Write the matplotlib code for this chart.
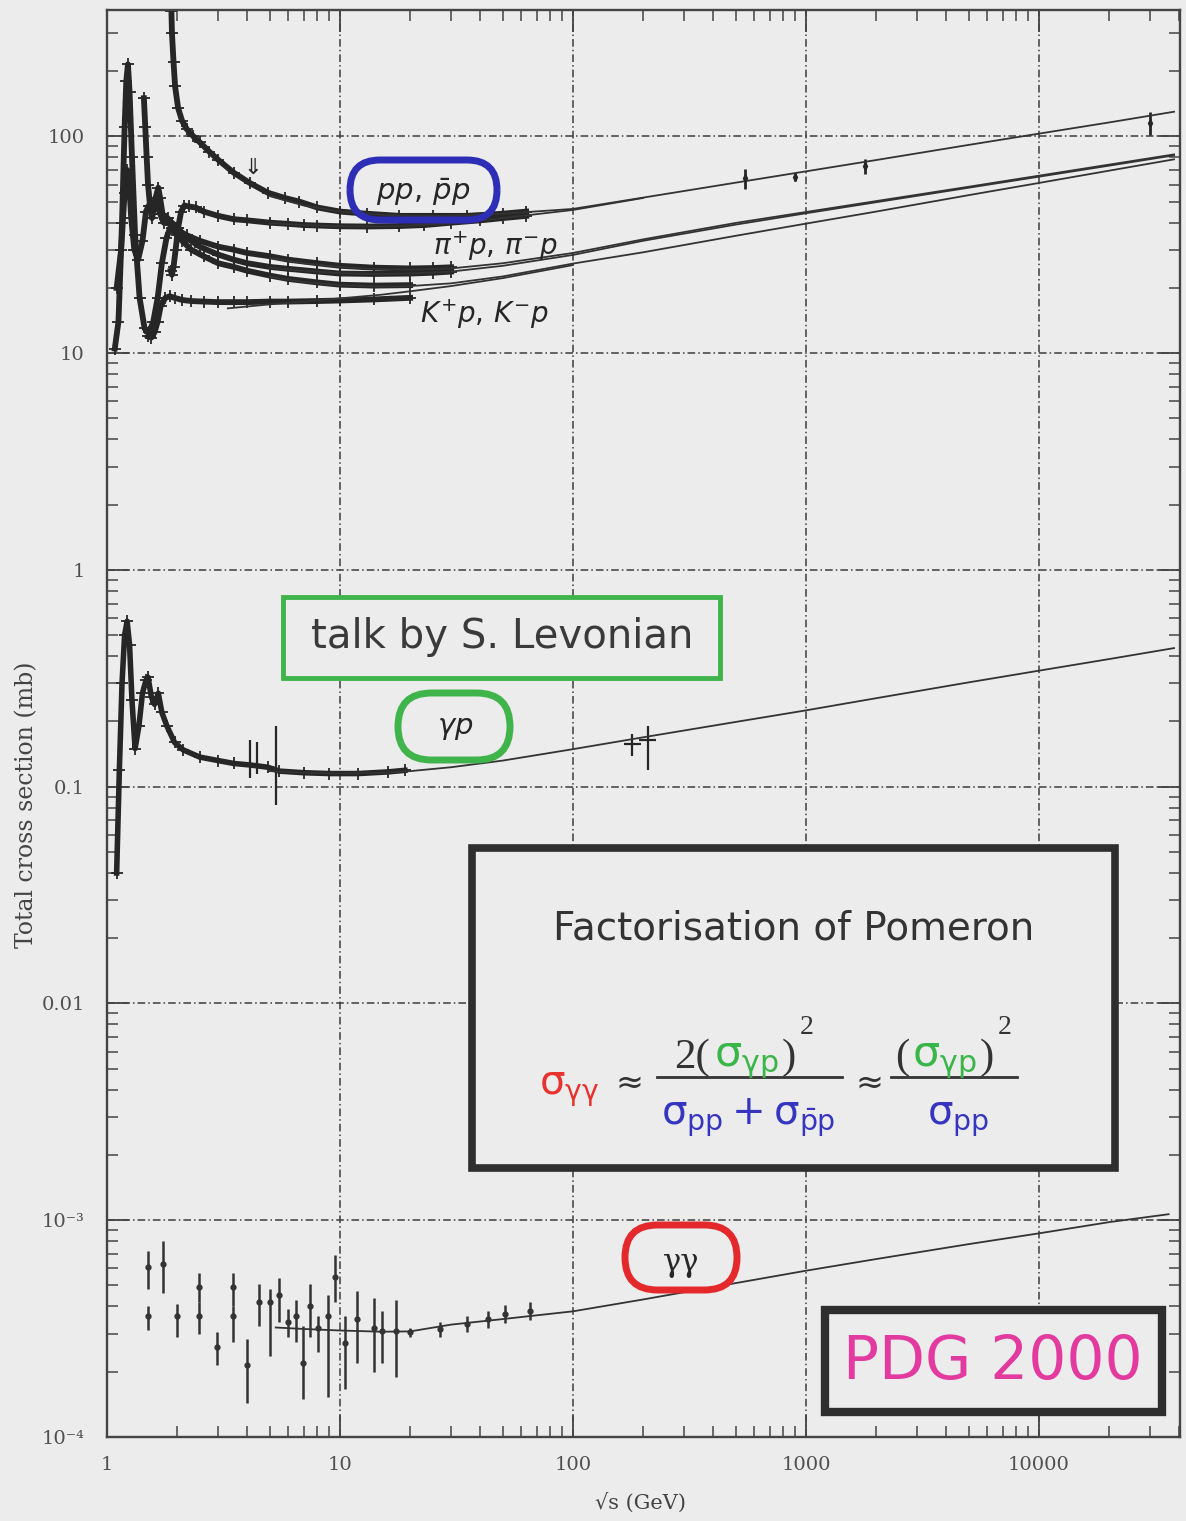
import matplotlib
matplotlib.use("Agg")
import matplotlib.pyplot as plt
from matplotlib.patches import FancyBboxPatch, Rectangle
from matplotlib.lines import Line2D
from matplotlib.ticker import LogLocator, NullFormatter, FixedLocator, FixedFormatter

W, H = 1186, 1521
BG = '#edecec'
INK = '#262626'

# ---------------- hadron - proton data (sqrt(s) in GeV, sigma in mb)
pbarp_x = [1.89, 1.90, 1.93, 1.96, 2.02, 2.1, 2.2, 2.35, 2.5, 2.75, 3.0, 3.5, 4.1, 4.9, 5.8, 6.7, 8, 10, 13, 18, 25, 35, 50, 63]
pbarp_y = [380, 300, 220, 170, 135, 118, 108, 100, 94, 85, 78, 68, 61, 55, 52, 50, 47, 45, 44, 43, 43, 43, 44, 45]

pp_x = [1.88, 1.9, 1.93, 1.97, 2.02, 2.08, 2.15, 2.25, 2.4, 2.6, 3.0, 3.5, 4.0, 5.0, 6.0, 7.0, 8.0, 10, 13, 18, 23, 30, 40, 50, 63]
pp_y = [24, 23, 25, 30, 38, 45, 48, 47.5, 47, 45, 43, 41.5, 41, 40, 39.5, 39, 38.8, 38.5, 38.4, 38.6, 39, 40, 41, 42, 43]

pip_x = [1.08, 1.12, 1.16, 1.19, 1.21, 1.23, 1.25, 1.28, 1.32, 1.38, 1.45, 1.52, 1.58, 1.65, 1.72, 1.8, 1.9, 2.0, 2.2, 2.5, 3.0, 3.5, 4.0, 5.0, 6.0, 8.0, 10, 14, 20, 25, 30]
pip_y = [10.5, 14, 40, 110, 180, 215, 160, 80, 35, 18, 13, 12.5, 14, 18, 26, 34, 40, 38, 34, 31, 28.5, 27, 26, 25, 24.5, 23.8, 23.3, 23.2, 23.3, 23.5, 23.8]

pim_x = [1.10, 1.15, 1.19, 1.22, 1.24, 1.27, 1.31, 1.36, 1.42, 1.47, 1.51, 1.55, 1.6, 1.66, 1.69, 1.73, 1.8, 1.9, 2.0, 2.2, 2.5, 3.0, 3.5, 4.0, 5.0, 6.0, 8.0, 10, 14, 20, 25, 30]
pim_y = [20, 30, 55, 70, 65, 42, 30, 27, 33, 45, 48, 46, 50, 58, 52, 44, 41, 39, 37, 35, 33, 31, 30, 29, 28, 27, 26, 25.3, 24.8, 24.6, 24.7, 24.9]

kmp_x = [1.44, 1.46, 1.48, 1.5, 1.53, 1.56, 1.6, 1.64, 1.69, 1.75, 1.82, 1.9, 2.0, 2.1, 2.3, 2.6, 3.0, 3.5, 4.0, 5.0, 6.0, 8.0, 10, 14, 20]
kmp_y = [150, 110, 80, 60, 48, 42, 47, 52, 44, 40, 42, 38, 35, 33, 30, 28, 26, 25, 24, 22.8, 22, 21.2, 20.7, 20.5, 20.6]

kpp_x = [1.5, 1.55, 1.6, 1.65, 1.7, 1.78, 1.86, 1.95, 2.1, 2.3, 2.6, 3.0, 3.5, 4.0, 5.0, 6.0, 8.0, 10, 14, 20]
kpp_y = [12, 11.8, 12.5, 14, 16.5, 18, 18.3, 18, 17.6, 17.4, 17.3, 17.2, 17.2, 17.2, 17.3, 17.3, 17.4, 17.5, 17.7, 18.0]

# collider points (pbar p)
coll_x = [546, 900, 1800, 30000]
coll_y = [64, 65, 73, 115]
coll_err = [7, 3, 6, 14]

# fits
pbarp_fit_x = [5, 7, 10, 15, 20, 30, 50, 100, 200, 500, 1000, 2000, 5000, 10000, 20000, 38000]
pbarp_fit_y = [53, 48, 45, 43.5, 43, 43, 44, 46.3, 52.2, 61.2, 69, 77.8, 91.4, 103, 116, 130]
pp_fit_x = [5, 7, 10, 15, 20, 30, 50, 100, 200]
pp_fit_y = [39.8, 39, 38.5, 38.4, 38.8, 39.8, 42, 45.8, 52]

pim_fit_x = [5, 7, 10, 15, 20, 30, 50, 100, 200, 500, 1000, 2000, 5000, 10000, 20000, 38000]
pim_fit_y = [27.5, 26, 25, 24.4, 24.3, 24.6, 26, 29, 33.5, 39.9, 44.8, 50.3, 58.6, 65.9, 74.1, 82.6]
pip_fit_x = [5, 7, 10, 15, 20, 30, 50, 100, 200, 500, 1000, 2000, 5000, 10000, 20000, 38000]
pip_fit_y = [24.8, 24, 23.4, 23.2, 23.3, 23.8, 25.3, 28.4, 33, 39.2, 44.2, 49.7, 58, 65.2, 73.3, 81.8]

kmp_fit_x = [5, 7, 10, 15, 20, 30, 50, 100, 200, 500, 1000, 2000, 5000, 10000, 20000, 38000]
kmp_fit_y = [22.5, 21.3, 20.6, 20.3, 20.4, 21, 22.6, 25.9, 29.2, 34.8, 39.6, 45, 53.6, 61, 69.5, 78.4]
kpp_fit_x = [3.3, 5, 7, 10, 15, 20, 30, 50, 100]
kpp_fit_y = [16.1, 16.8, 17.3, 17.9, 18.6, 19.3, 20.4, 22.2, 25.5]

# ---------------- gamma p
gp_x = [1.10, 1.13, 1.16, 1.19, 1.22, 1.25, 1.28, 1.32, 1.37, 1.42, 1.47, 1.50, 1.55, 1.60, 1.66, 1.72, 1.81, 1.95, 2.12, 2.5, 3.0, 3.5, 4.1, 4.9, 5.5, 7.0, 9.0, 12, 16, 19]
gp_y = [0.04, 0.12, 0.3, 0.5, 0.58, 0.45, 0.25, 0.15, 0.19, 0.27, 0.31, 0.32, 0.26, 0.24, 0.27, 0.22, 0.19, 0.16, 0.148, 0.137, 0.132, 0.128, 0.126, 0.123, 0.118, 0.116, 0.115, 0.115, 0.117, 0.119]

gpe_x = [4.1, 4.4, 5.3, 180, 210]
gpe_y = [0.135, 0.133, 0.12, 0.157, 0.165]
gpe_lo = [0.11, 0.115, 0.082, 0.138, 0.12]
gpe_hi = [0.165, 0.16, 0.19, 0.175, 0.19]
gpe_xerr = [0, 0, 0, 15, 18]

gp_fit_x = [5, 7, 10, 15, 20, 30, 50, 100, 200, 500, 1000, 2000, 5000, 10000, 20000, 38000]
gp_fit_y = [0.118, 0.116, 0.115, 0.116, 0.118, 0.123, 0.132, 0.149, 0.169, 0.199, 0.225, 0.256, 0.303, 0.343, 0.388, 0.436]

# ---------------- gamma gamma
gg_x = [1.50, 1.50, 1.74, 2.0, 2.48, 2.48, 2.97, 3.47, 3.47, 3.99, 4.49, 5.01, 5.47, 5.98, 6.47, 6.94, 7.43, 8.05, 8.88, 9.52, 10.5, 11.8, 14.0, 15.1, 17.4, 19.9,
        26.9, 35.1, 43.2, 51.1, 65.3]
gg_y = [6.1e-4, 3.6e-4, 6.3e-4, 3.6e-4, 4.9e-4, 3.6e-4, 2.6e-4, 4.9e-4, 3.6e-4, 2.16e-4, 4.2e-4, 4.2e-4, 4.5e-4, 3.4e-4, 3.6e-4, 2.2e-4, 4.0e-4, 3.2e-4, 3.6e-4, 5.5e-4, 2.7e-4, 3.5e-4, 3.2e-4, 3.07e-4, 3.07e-4, 3.04e-4,
        3.15e-4, 3.32e-4, 3.5e-4, 3.69e-4, 3.81e-4]
gg_lo = [4.8e-4, 3.1e-4, 4.6e-4, 2.9e-4, 4.2e-4, 3.0e-4, 2.16e-4, 4.0e-4, 2.74e-4, 1.44e-4, 3.25e-4, 2.36e-4, 3.4e-4, 2.9e-4, 2.74e-4, 1.49e-4, 2.9e-4, 2.46e-4, 1.53e-4, 4.2e-4, 1.66e-4, 2.2e-4, 2.0e-4, 2.2e-4, 1.9e-4, 2.9e-4,
         2.9e-4, 3.05e-4, 3.2e-4, 3.35e-4, 3.45e-4]
gg_hi = [7.25e-4, 4.0e-4, 8.0e-4, 4.1e-4, 5.7e-4, 4.2e-4, 3.04e-4, 5.7e-4, 4.0e-4, 2.82e-4, 5.1e-4, 4.8e-4, 5.4e-4, 3.9e-4, 4.3e-4, 3.25e-4, 5.1e-4, 3.6e-4, 4.5e-4, 6.9e-4, 3.6e-4, 4.7e-4, 4.4e-4, 3.8e-4, 4.3e-4, 3.2e-4,
         3.4e-4, 3.6e-4, 3.8e-4, 4.05e-4, 4.2e-4]

gg_fit_x = [5.3, 7, 10, 15, 20, 30, 50, 100, 200, 500, 1000, 2000, 5000, 10000, 20000, 36000]
gg_fit_y = [3.2e-4, 3.15e-4, 3.1e-4, 3.06e-4, 3.07e-4, 3.3e-4, 3.5e-4, 3.8e-4, 4.31e-4, 5.13e-4, 5.85e-4, 6.62e-4, 7.76e-4, 8.7e-4, 9.8e-4, 1.066e-3]

x_ticks = [1, 10, 100, 1000, 10000]
x_labels = ['1', '10', '100', '1000', '10000']
y_ticks = [1e-4, 1e-3, 0.01, 0.1, 1, 10, 100]
y_labels = ['10\u207b\u2074', '10\u207b\u00b3', '0.01', '0.1', '1', '10', '100']

fig = plt.figure(figsize=(W / 100, H / 100), dpi=100, facecolor=BG)
ax = fig.add_axes([107 / W, 1 - 1437 / H, (1180 - 107) / W, (1437 - 10) / H])
ax.set_facecolor(BG)
ax.set_xscale('log')
ax.set_yscale('log')
ax.set_xlim(1, 40300)
ax.set_ylim(1e-4, 383)

# grid
ax.set_axisbelow(True)
ax.grid(True, which='major', color='#3c3c3c', lw=1.1, ls=(0, (5, 2, 1, 2)))

# ticks
ax.xaxis.set_major_locator(FixedLocator(x_ticks))
ax.xaxis.set_major_formatter(FixedFormatter(x_labels))
ax.yaxis.set_major_locator(FixedLocator(y_ticks))
ax.yaxis.set_major_formatter(FixedFormatter(y_labels))
ax.xaxis.set_minor_locator(LogLocator(base=10, subs=range(2, 10), numticks=20))
ax.yaxis.set_minor_locator(LogLocator(base=10, subs=range(2, 10), numticks=20))
ax.xaxis.set_minor_formatter(NullFormatter())
ax.yaxis.set_minor_formatter(NullFormatter())
ax.tick_params(which='both', direction='in', top=True, right=True, color='#444')
ax.tick_params(which='major', length=16, width=1.3)
ax.tick_params(which='minor', length=8, width=1.1)
ax.tick_params(axis='y', pad=16, labelsize=14, labelcolor='#505050')
ax.tick_params(axis='x', pad=14, labelsize=14, labelcolor='#505050')
for lbl in ax.get_xticklabels() + ax.get_yticklabels():
    lbl.set_family('DejaVu Serif')
for sp in ax.spines.values():
    sp.set_color('#444')
    sp.set_linewidth(1.7)

ax.set_ylabel('Total cross section (mb)', family='DejaVu Serif', fontsize=17, color='#444')
ax.set_xlabel('\u221as (GeV)', family='DejaVu Serif', fontsize=15, color='#444')
ax.yaxis.set_label_coords(-0.064, 0.443)
ax.xaxis.set_label_coords(0.497, -0.039)

# hadronic data bands
for xs, ys in [(pip_x, pip_y), (pim_x, pim_y), (kmp_x, kmp_y), (kpp_x, kpp_y), (pp_x, pp_y), (pbarp_x, pbarp_y)]:
    ax.plot(xs, ys, color=INK, lw=4.2, solid_joinstyle='round', marker='+', ms=8, mew=1.3)

ax.errorbar(coll_x, coll_y, yerr=coll_err, fmt='d', color=INK, ms=4, elinewidth=2, capsize=0)

for xs, ys in [(pbarp_fit_x, pbarp_fit_y), (pp_fit_x, pp_fit_y), (pim_fit_x, pim_fit_y),
               (pip_fit_x, pip_fit_y), (kmp_fit_x, kmp_fit_y), (kpp_fit_x, kpp_fit_y)]:
    ax.plot(xs, ys, color='#333', lw=1.3)

# gamma p
ax.plot(gp_x, gp_y, color=INK, lw=4.0, solid_joinstyle='round', marker='+', ms=8, mew=1.3)
gpe_err = [[y - lo for y, lo in zip(gpe_y, gpe_lo)], [hi - y for y, hi in zip(gpe_y, gpe_hi)]]
ax.errorbar(gpe_x, gpe_y, yerr=gpe_err, xerr=gpe_xerr, fmt='none', ecolor=INK, elinewidth=1.6)
ax.plot(gp_fit_x, gp_fit_y, color='#333', lw=1.3)

# gamma gamma
gg_err = [[y - lo for y, lo in zip(gg_y, gg_lo)], [hi - y for y, hi in zip(gg_y, gg_hi)]]
ax.errorbar(gg_x, gg_y, yerr=gg_err, fmt='o', color='#333', ms=3.5, elinewidth=1.8, capsize=0)
ax.plot(gg_fit_x, gg_fit_y, color='#333', lw=1.3)

# ---------------- annotations (positions in picture pixels)
T = fig.dpi_scale_trans


def P(x, y):
    return x / 100.0, (H - y) / 100.0


def pill(x0, y0, x1, y1, color):
    r = (y1 - y0) / 200.0
    fig.add_artist(FancyBboxPatch(P(x0, y1), (x1 - x0) / 100.0, (y1 - y0) / 100.0,
                                  boxstyle=f'round,pad=0,rounding_size={r}', transform=T,
                                  fill=False, ec=color, lw=5))


def frame(x0, y0, x1, y1, color, lw):
    fig.add_artist(Rectangle(P(x0, y1), (x1 - x0) / 100.0, (y1 - y0) / 100.0, transform=T,
                             fc=BG, ec=color, lw=lw))


def txt(x, y, s, **kw):
    kw.setdefault('ha', 'center')
    kw.setdefault('va', 'center')
    kw.setdefault('color', INK)
    return fig.text(*P(x, y), s, transform=T, **kw)


pill(350, 160, 497, 220, '#2d2db5')
txt(423, 192, r'$pp,\,\bar{p}p$', fontsize=21)
txt(495, 246, r'$\pi^{+}p,\,\pi^{-}p$', fontsize=20)
txt(485, 314, r'$K^{+}p,\,K^{-}p$', fontsize=20)
txt(253, 168, '\u21d3', fontsize=16, family='DejaVu Sans')

frame(283, 597, 720, 678, '#3fb44b', 3.5)
txt(502, 637, 'talk by S. Levonian', fontsize=29, family='DejaVu Sans', color='#3a3a3a')

pill(398, 693, 510, 760, '#3fb44b')
txt(455, 728, r'$\gamma p$', fontsize=21)

pill(625, 1225, 737, 1290, '#e3292b')
txt(681, 1262, '\u03b3\u03b3', fontsize=22, family='DejaVu Serif')

# factorisation box
frame(472, 848, 1115, 1168, '#2e2e2e', 5.5)
txt(794, 928, 'Factorisation of Pomeron', fontsize=28, family='DejaVu Sans', color='#333')

RED, GRN, BLU = '#e8322d', '#3ab54a', '#3535c0'
s_gg = r'$\mathrm{\sigma}_{\mathrm{\gamma\gamma}}$'
s_gp = r'$\mathrm{\sigma}_{\mathrm{\gamma p}}$'
s_pp = r'$\mathrm{\sigma}_{\mathrm{pp}}$'
s_den = r'$\mathrm{\sigma}_{\mathrm{pp}} + \mathrm{\sigma}_{\bar{\mathrm{p}}\mathrm{p}}$'

txt(539, 1094, s_gg, ha='left', va='baseline', fontsize=29, color=RED)
txt(629, 1093, '\u2248', fontsize=24, va='baseline', color='#333')
txt(674, 1068, '2(', ha='left', va='baseline', fontsize=31, family='Liberation Serif', color='#333')
txt(714, 1066, s_gp, ha='left', va='baseline', fontsize=31, color=GRN)
txt(782, 1068, ')', ha='left', va='baseline', fontsize=31, family='Liberation Serif', color='#333')
txt(800, 1034, '2', ha='left', va='baseline', fontsize=20, family='Liberation Serif', color='#333')
fig.add_artist(Line2D([6.57, 8.42], [(H - 1077) / 100] * 2, transform=T, color='#333', lw=2))
txt(748, 1124, s_den, va='baseline', fontsize=29, color=BLU)

txt(869, 1093, '\u2248', fontsize=24, va='baseline', color='#333')
txt(895, 1068, '(', ha='left', va='baseline', fontsize=31, family='Liberation Serif', color='#333')
txt(912, 1066, s_gp, ha='left', va='baseline', fontsize=31, color=GRN)
txt(980, 1068, ')', ha='left', va='baseline', fontsize=31, family='Liberation Serif', color='#333')
txt(998, 1034, '2', ha='left', va='baseline', fontsize=20, family='Liberation Serif', color='#333')
fig.add_artist(Line2D([8.91, 10.17], [(H - 1077) / 100] * 2, transform=T, color='#333', lw=2))
txt(958, 1124, s_pp, va='baseline', fontsize=29, color=BLU)

frame(825, 1310, 1162, 1412, '#2e2e2e', 6)
txt(993, 1362, 'PDG 2000', fontsize=43, family='DejaVu Sans', color='#e23a9f')

fig.savefig('out.png', dpi=100, facecolor=BG)
